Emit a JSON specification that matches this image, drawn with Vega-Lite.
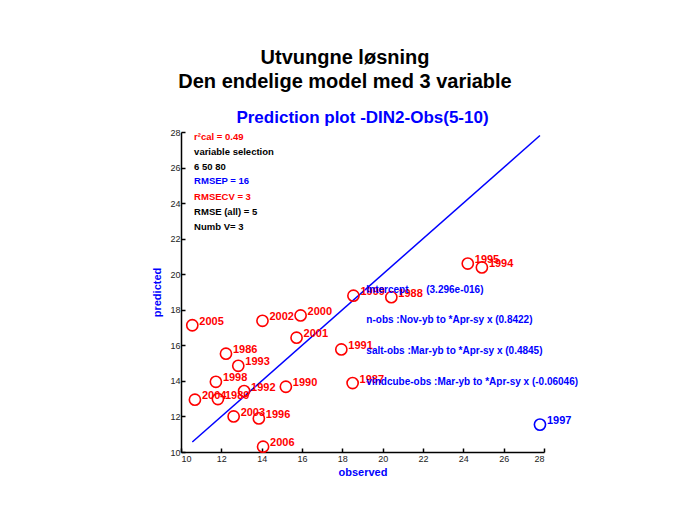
{
  "$schema": "https://vega.github.io/schema/vega-lite/v6.json",
  "background": "white",
  "autosize": {"type": "pad"},
  "padding": {"left": 151, "top": 48, "right": 5, "bottom": 5},
  "title": {
    "text": ["Utvungne løsning", "Den endelige model med 3 variable"],
    "font": "Liberation Sans",
    "fontSize": 20,
    "fontWeight": "bold",
    "color": "#000000",
    "anchor": "middle",
    "lineHeight": 23.5,
    "offset": 17.5,
    "dx": -20
  },
  "datasets": {
    "points": [
      {"year": "2005", "observed": 10.56, "predicted": 17.13, "set": "calibration"},
      {"year": "2002", "observed": 14.04, "predicted": 17.38, "set": "calibration"},
      {"year": "2000", "observed": 15.93, "predicted": 17.68, "set": "calibration"},
      {"year": "2001", "observed": 15.73, "predicted": 16.43, "set": "calibration"},
      {"year": "1986", "observed": 12.23, "predicted": 15.53, "set": "calibration"},
      {"year": "1993", "observed": 12.84, "predicted": 14.85, "set": "calibration"},
      {"year": "1998", "observed": 11.73, "predicted": 13.95, "set": "calibration"},
      {"year": "2004", "observed": 10.69, "predicted": 12.94, "set": "calibration"},
      {"year": "1989", "observed": 11.83, "predicted": 12.98, "set": "calibration"},
      {"year": "1992", "observed": 13.13, "predicted": 13.43, "set": "calibration"},
      {"year": "1990", "observed": 15.2, "predicted": 13.67, "set": "calibration"},
      {"year": "2003", "observed": 12.61, "predicted": 12.0, "set": "calibration"},
      {"year": "1996", "observed": 13.86, "predicted": 11.89, "set": "calibration"},
      {"year": "2006", "observed": 14.07, "predicted": 10.3, "set": "calibration"},
      {"year": "1991", "observed": 17.95, "predicted": 15.77, "set": "calibration"},
      {"year": "1987", "observed": 18.51, "predicted": 13.88, "set": "calibration"},
      {"year": "1999", "observed": 18.55, "predicted": 18.79, "set": "calibration"},
      {"year": "1988", "observed": 20.43, "predicted": 18.71, "set": "calibration"},
      {"year": "1995", "observed": 24.22, "predicted": 20.6, "set": "calibration"},
      {"year": "1994", "observed": 24.92, "predicted": 20.38, "set": "calibration"},
      {"year": "1997", "observed": 27.8, "predicted": 11.54, "set": "validation"}
    ],
    "identity": [
      {"observed": 10.56, "predicted": 10.56},
      {"observed": 27.8, "predicted": 27.8}
    ],
    "stats": [
      {"label": "r²cal = 0.49", "observed": 10.65, "predicted": 27.7, "set": "calibration"},
      {"label": "variable selection", "observed": 10.65, "predicted": 26.89, "set": "info"},
      {"label": "6 50 80", "observed": 10.65, "predicted": 26.05, "set": "info"},
      {"label": "RMSEP = 16", "observed": 10.65, "predicted": 25.25, "set": "validation"},
      {"label": "RMSECV = 3", "observed": 10.65, "predicted": 24.37, "set": "calibration"},
      {"label": "RMSE (all) = 5", "observed": 10.65, "predicted": 23.49, "set": "info"},
      {"label": "Numb V= 3", "observed": 10.65, "predicted": 22.67, "set": "info"}
    ],
    "coefficients": [
      {"label": "Intercept", "observed": 19.19, "predicted": 19.14, "set": "validation"},
      {"label": "(3.296e-016)", "observed": 22.16, "predicted": 19.14, "set": "validation"},
      {"label": "n-obs :Nov-yb to *Apr-sy x (0.8422)", "observed": 19.19, "predicted": 17.42, "set": "validation"},
      {"label": "salt-obs :Mar-yb to *Apr-sy x (0.4845)", "observed": 19.19, "predicted": 15.67, "set": "validation"},
      {"label": "vindcube-obs :Mar-yb to *Apr-sy x (-0.06046)", "observed": 19.19, "predicted": 13.93, "set": "validation"}
    ]
  },
  "vconcat": [
    {
      "width": 363,
      "height": 320,
      "title": {
        "text": "Prediction plot -DIN2-Obs(5-10)",
        "font": "Liberation Sans",
        "fontSize": 17,
        "fontWeight": "bold",
        "color": "#0000ff",
        "anchor": "middle",
        "offset": 1
      },
      "encoding": {
        "x": {
          "field": "observed",
          "type": "quantitative",
          "scale": {"domain": [10, 28], "nice": false, "zero": false},
          "axis": {"values": [10, 12, 14, 16, 18, 20, 22, 24, 26, 28], "title": "observed"}
        },
        "y": {
          "field": "predicted",
          "type": "quantitative",
          "scale": {"domain": [10, 28], "nice": false, "zero": false},
          "axis": {"values": [10, 12, 14, 16, 18, 20, 22, 24, 26, 28], "title": "predicted"}
        },
        "color": {
          "field": "set",
          "type": "nominal",
          "scale": {"domain": ["calibration", "validation", "info"], "range": ["#ff0000", "#0000ff", "#000000"]},
          "legend": null
        }
      },
      "layer": [
        {
          "data": {"name": "identity"},
          "mark": {"type": "line", "color": "#0000ff", "strokeWidth": 1.5},
          "encoding": {"color": {"value": "#0000ff"}}
        },
        {
          "data": {"name": "points"},
          "mark": {"type": "point", "shape": "circle", "filled": false, "size": 125, "strokeWidth": 1.6, "opacity": 1}
        },
        {
          "data": {"name": "points"},
          "mark": {"type": "text", "align": "left", "baseline": "middle", "dx": 7, "dy": -3.5, "font": "Liberation Sans", "fontSize": 11, "fontWeight": "bold"},
          "encoding": {"text": {"field": "year"}}
        },
        {
          "data": {"name": "stats"},
          "mark": {"type": "text", "align": "left", "baseline": "middle", "font": "Liberation Sans", "fontSize": 9.5, "fontWeight": "bold"},
          "encoding": {"text": {"field": "label"}}
        },
        {
          "data": {"name": "coefficients"},
          "mark": {"type": "text", "align": "left", "baseline": "middle", "font": "Liberation Sans", "fontSize": 10, "fontWeight": "bold"},
          "encoding": {"text": {"field": "label"}}
        }
      ]
    }
  ],
  "config": {
    "view": {"stroke": null},
    "axis": {
      "grid": false,
      "domainColor": "#000000",
      "domainWidth": 1.5,
      "tickColor": "#000000",
      "tickWidth": 1.5,
      "tickSize": -4,
      "labelFont": "Liberation Sans",
      "labelFontSize": 9,
      "labelColor": "#222222",
      "labelPadding": 5,
      "titleFont": "Liberation Sans",
      "titleFontSize": 11,
      "titleFontWeight": "bold",
      "titleColor": "#0000ff"
    },
    "axisX": {"titlePadding": 3, "labelPadding": 6},
    "axisY": {"titlePadding": 7}
  }
}
